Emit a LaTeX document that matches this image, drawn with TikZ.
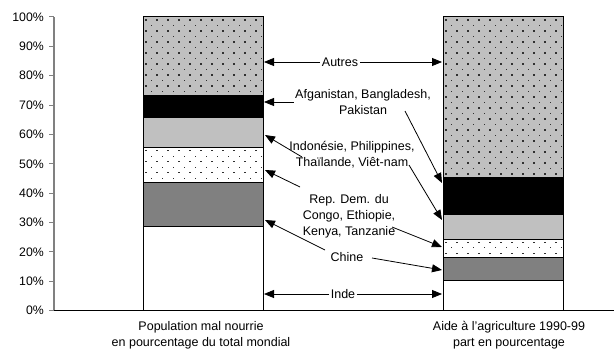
\documentclass[tikz,border=0pt]{standalone}
\usepackage{fontspec}
\setmainfont{Liberation Sans}
\usetikzlibrary{arrows.meta}
\definecolor{dotc}{HTML}{303030}
\definecolor{lgray}{HTML}{C0C0C0}
\definecolor{dgray}{HTML}{808080}
\newcommand{\mydotrect}[5]{%
  \fill[#5] (#1,#2) rectangle (#3,#4);
  \begin{scope}
    \clip (#1,#2) rectangle (#3,#4);
    \foreach \r in {0,...,31} {
      \foreach \c in {0,...,11} {
        \pgfmathsetmacro{\xx}{#1+3+\c*11+mod(\r,2)*5.5}
        \pgfmathsetmacro{\yy}{#4-3-\r*5.5}
        \fill[dotc] (\xx-0.6,\yy-0.6) rectangle ++(1.3,1.3);
      }
    }
  \end{scope}}
\begin{document}
\begin{tikzpicture}[x=1pt,y=1pt,
  txt/.style={font=\fontsize{12.5}{16}\selectfont, align=center, inner sep=1.5pt},
  tick/.style={font=\fontsize{12.3}{14}\selectfont, anchor=east, inner sep=0pt},
  arr/.style={line width=0.8pt, -{Triangle[length=10pt,width=8pt]}},
  seg/.style={draw=black, line width=1pt}]
\useasboundingbox (0,0) rectangle (615,354);
% axes
\draw[dgray, line width=1.6pt] (54,43.3) -- (54,337);
\foreach \k in {0,...,10} {
  \draw[dgray, line width=1pt] (49.3,{43.3+29.37*\k}) -- (54,{43.3+29.37*\k});
  \node[tick] (t\k) at (44,{43.3+29.37*\k}) {\pgfmathparse{int(\k*10)}\pgfmathresult\%};
}
\draw[black, line width=0.8pt] (54,43.3) -- (614,43.3);
% left bar
\fill[white] (143,43.3) rectangle (263,127.89);
\fill[dgray] (143,127.89) rectangle (263,171.94);
\mydotrect{143}{171.94}{263}{206.30}{white}
\fill[lgray] (143,206.30) rectangle (263,236.55);
\fill[black] (143,236.55) rectangle (263,258.58);
\mydotrect{143}{258.58}{263}{337}{lgray}
\foreach \yv in {127.89,171.94,206.30,236.55} \draw[seg] (143,\yv) -- (263,\yv);
\draw[seg] (143,43.3) rectangle (263,337);
% right bar
\fill[white] (443,43.3) rectangle (563,73.26);
\fill[dgray] (443,73.26) rectangle (563,96.75);
\mydotrect{443}{96.75}{563}{114.67}{white}
\fill[lgray] (443,114.67) rectangle (563,139.05);
\fill[black] (443,139.05) rectangle (563,176.64);
\mydotrect{443}{176.64}{563}{337}{lgray}
\foreach \yv in {73.26,96.75,114.67,139.05} \draw[seg] (443,\yv) -- (563,\yv);
\draw[seg] (443,43.3) rectangle (563,337);
% labels
\node[txt] (autres) at (340,292) {Autres};
\node[txt] (afg) at (363,251.5) {Afganistan, Bangladesh,\\Pakistan};
\node[txt] (indo) at (352,199.5) {Indonésie, Philippines,\\Thaïlande, Viêt-nam};
\node[txt] (rdc) at (349,137.3) {Rep. Dem. du\\Congo, Ethiopie,\\Kenya, Tanzanie};
\node[txt] (chine) at (347,97) {Chine};
\node[txt] (inde) at (343,60) {Inde};
\node[txt] (lab1) at (201,19) {Population mal nourrie\\en pourcentage du total mondial};
\node[txt] (lab2) at (509,19) {Aide à l'agriculture 1990-99\\part en pourcentage};
% arrow end points
\coordinate (autL) at (264,292);
\coordinate (autR) at (442,292);
\coordinate (indL) at (264,60);
\coordinate (indR) at (442,60);
\coordinate (afgL) at (264,252);
\coordinate (afgS) at (405,243);
\coordinate (afgR) at (442,171);
\coordinate (indoS1) at (302,197);
\coordinate (indoL) at (265,219);
\coordinate (indoS2) at (409,189);
\coordinate (indoR) at (442,134);
\coordinate (rdcS1) at (300,167);
\coordinate (rdcL) at (265,184);
\coordinate (rdcS2) at (392,127);
\coordinate (rdcR) at (442,107);
\coordinate (chS1) at (325,104);
\coordinate (chL) at (265,134);
\coordinate (chS2) at (372,96);
\coordinate (chR) at (442,84);
% arrows
\draw[arr] (autres.west) -- (autL);
\draw[arr] (autres.east) -- (autR);
\draw[arr] (inde.west) -- (indL);
\draw[arr] (inde.east) -- (indR);
\draw[arr] (afg.west |- afgL) -- (afgL);
\draw[arr] (afgS) -- (afgR);
\draw[arr] (indoS1) -- (indoL);
\draw[arr] (indoS2) -- (indoR);
\draw[arr] (rdcS1) -- (rdcL);
\draw[arr] (rdcS2) -- (rdcR);
\draw[arr] (chS1) -- (chL);
\draw[arr] (chS2) -- (chR);
\end{tikzpicture}
\end{document}
